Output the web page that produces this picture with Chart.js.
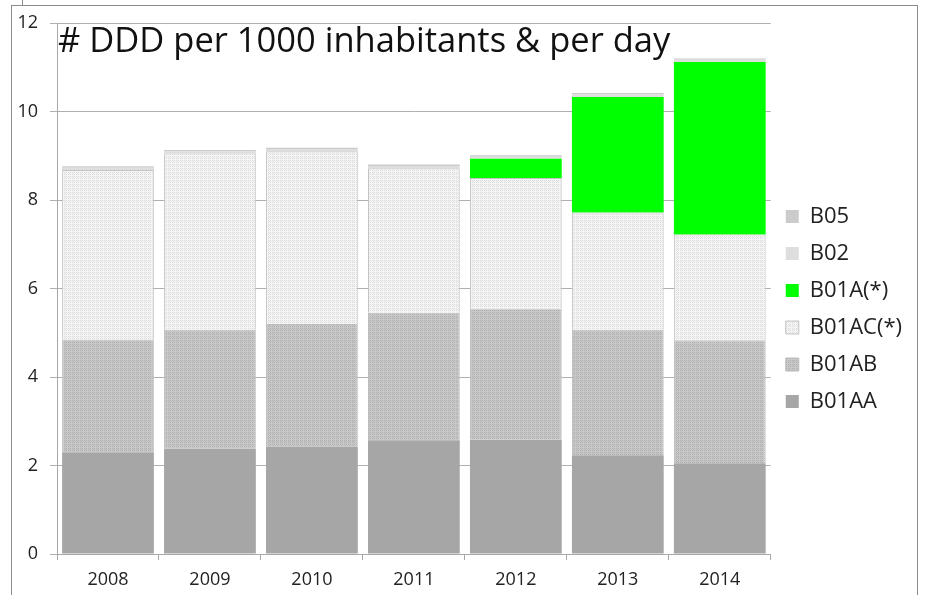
<!DOCTYPE html>
<html>
<head>
<meta charset="utf-8">
<script src="https://cdn.jsdelivr.net/npm/chart.js@4/dist/chart.umd.min.js"></script>
<style>
  html, body { margin: 0; padding: 0; background: #fff; }
  #wrap { position: relative; width: 925px; height: 595px; overflow: hidden; }
  #frame { position: absolute; left: 11px; top: 5px; width: 905px; height: 620px;
           border: 1px solid #8c8c8c; border-bottom: none; }
  #notch { position: absolute; left: 22px; top: 0; width: 1px; height: 5px; background: #8c8c8c; }
  #chart { position: absolute; left: 0; top: 0; }
</style>
</head>
<body>
<div id="wrap">
  <div id="frame"></div>
  <div id="notch"></div>
  <canvas id="chart" width="925" height="595"></canvas>
</div>
<script>
const years = ["2008", "2009", "2010", "2011", "2012", "2013", "2014"];
const b01aa = [2.30, 2.38, 2.43, 2.57, 2.58, 2.23, 2.05];
const b01ab = [2.55, 2.69, 2.77, 2.88, 2.97, 2.84, 2.78];
const b01ac = [3.83, 3.98, 3.90, 3.27, 2.95, 2.65, 2.39];
const b01a = [0, 0, 0, 0, 0.43, 2.61, 3.90];
const b02 = [0.05, 0.05, 0.05, 0.05, 0.05, 0.06, 0.05];
const b05 = [0.03, 0.03, 0.03, 0.03, 0.03, 0.03, 0.03];

// small fill patterns like the office hatching
function makePattern(base, dot) {
  const c = document.createElement("canvas");
  c.width = 4; c.height = 4;
  const g = c.getContext("2d");
  g.fillStyle = base;
  g.fillRect(0, 0, 4, 4);
  g.fillStyle = dot;
  g.fillRect(0, 0, 1, 1); g.fillRect(2, 2, 1, 1);
  g.fillRect(2, 0, 1, 1); g.fillRect(0, 2, 1, 1);
  g.fillRect(1, 1, 1, 1);
  return g.createPattern(c, "repeat");
}
const ctx = document.getElementById("chart").getContext("2d");
const abFill = makePattern("#c8c8c8", "#b0b0b0");
const acFill = makePattern("#f5f5f5", "#dcdcdc");

const font = "'Open Sans', sans-serif";

const titlePlugin = {
  id: "insideTitle",
  afterDraw(chart) {
    const a = chart.chartArea;
    const c = chart.ctx;
    c.save();
    c.font = "34.5px " + font;
    c.fillStyle = "#111";
    c.textBaseline = "alphabetic";
    c.fillText("# DDD per 1000 inhabitants & per day", 58, a.top + 29);
    c.restore();
  }
};

const data = {
  labels: years,
  datasets: [
    { label: "B01AA", data: b01aa, backgroundColor: "#a6a6a6" },
    { label: "B01AB", data: b01ab, backgroundColor: abFill, borderColor: "#bdbdbd", borderWidth: 1 },
    { label: "B01AC(*)", data: b01ac, backgroundColor: acFill, borderColor: "#c4c4c4", borderWidth: 1 },
    { label: "B01A(*)", data: b01a, backgroundColor: "#00ff00" },
    { label: "B02", data: b02, backgroundColor: "#dedede" },
    { label: "B05", data: b05, backgroundColor: "#cbcbcb" },
  ],
};

const config = {
  type: "bar",
  data: data,
  options: {
    responsive: false,
    animation: false,
    layout: { padding: { top: 23, right: 13, left: 0, bottom: 0 } },
    datasets: { bar: { barPercentage: 0.9, categoryPercentage: 1.0 } },
    plugins: {
      legend: {
        position: "right",
        reverse: true,
        labels: {
          boxWidth: 13,
          boxHeight: 13,
          padding: 15,
          color: "#222",
          font: { family: font, size: 22 },
        },
      },
      tooltip: { enabled: false },
    },
    scales: {
      x: {
        stacked: true,
        grid: { drawOnChartArea: false, drawTicks: true, tickLength: 6, color: "#a8a8a8", offset: true },
        border: { color: "#a8a8a8" },
        ticks: { color: "#222", padding: 9, font: { family: font, size: 18 } },
        afterFit(s) { s.height = 41; },
      },
      y: {
        stacked: true,
        min: 0,
        max: 12,
        grid: { color: "#b0b0b0", tickLength: 7 },
        border: { color: "#a8a8a8" },
        ticks: { stepSize: 2, color: "#222", padding: 12, font: { family: font, size: 18 } },
        afterFit(s) { s.width = 57; },
      },
    },
  },
  plugins: [titlePlugin],
};

new Chart(ctx, config);
</script>
</body>
</html>
